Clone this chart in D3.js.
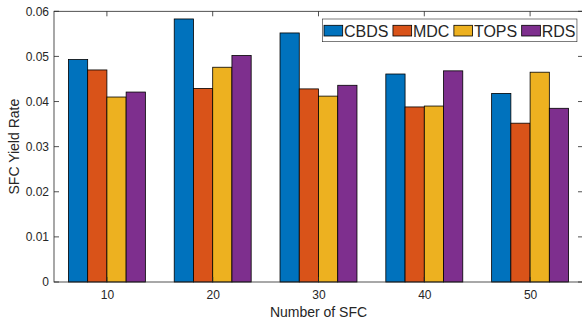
<!DOCTYPE html>
<html>
<head>
<meta charset="utf-8">
<script src="https://cdn.jsdelivr.net/npm/d3@7"></script>
<style>
  html, body { margin: 0; padding: 0; background: #fff; }
  svg text { font-family: "Liberation Sans", Arial, Helvetica, sans-serif; fill: #262626; }
</style>
</head>
<body>
<svg id="chart" width="582" height="322"></svg>
<script>
// Grouped bar data: SFC yield rate per algorithm
const categories = [10, 20, 30, 40, 50];
const seriesNames = ["CBDS", "MDC", "TOPS", "RDS"];
const cbds = [0.0493, 0.0583, 0.0552, 0.0461, 0.0418];
const mdc  = [0.0470, 0.0429, 0.0428, 0.0388, 0.0352];
const tops = [0.0410, 0.0476, 0.0412, 0.0390, 0.0465];
const rds  = [0.0421, 0.0502, 0.0436, 0.0468, 0.0385];
const yTicks = [0, 0.01, 0.02, 0.03, 0.04, 0.05, 0.06];
const colors = ["#0072BD", "#D95319", "#EDB120", "#7E2F8E"];

const series = [cbds, mdc, tops, rds];

const svg = d3.select("#chart");
const plotL = 54, plotR = 583, plotT = 11.3, plotB = 282;
const axisColor = "#262626";

const x = d3.scaleLinear().domain([5, 55]).range([plotL, plotR]);
const y = d3.scaleLinear().domain([0, 0.06]).range([plotB, plotT]);

// group spans 4/(4+1.5) of the category spacing
const spacing = 10;
const groupW = spacing * series.length / (series.length + 1.5);
const inner = d3.scaleBand().domain(d3.range(series.length)).range([-groupW / 2, groupW / 2]).padding(0);

// bars
const g = svg.append("g");
categories.forEach((c, ci) => {
  series.forEach((s, si) => {
    const x0 = x(c + inner(si));
    const x1 = x(c + inner(si) + inner.bandwidth());
    g.append("rect")
      .attr("x", x0)
      .attr("y", y(s[ci]))
      .attr("width", x1 - x0)
      .attr("height", y(0) - y(s[ci]))
      .attr("fill", colors[si])
      .attr("stroke", "#000")
      .attr("stroke-width", 0.8);
  });
});

// axes
const xAxis = d3.axisBottom(x).tickValues(categories).tickSize(0).tickPadding(8).tickFormat(d3.format("d"));
const yAxis = d3.axisLeft(y).tickValues(yTicks).tickSize(0).tickPadding(5)
  .tickFormat(d => d === 0 ? "0" : d3.format(".2f")(d));

const gx = svg.append("g").attr("transform", `translate(0,${plotB})`).call(xAxis);
const gy = svg.append("g").attr("transform", `translate(${plotL},0)`).call(yAxis);
[gx, gy].forEach(a => {
  a.select(".domain").remove();
  a.selectAll("text").style("font-size", "12px").attr("fill", axisColor);
});

// box and inward ticks
const box = svg.append("g").attr("stroke", axisColor).attr("stroke-width", 0.8).attr("fill", "none");
box.append("rect").attr("x", plotL).attr("y", plotT).attr("width", plotR - plotL).attr("height", plotB - plotT);
const tl = 5;
categories.forEach(c => {
  box.append("line").attr("x1", x(c)).attr("x2", x(c)).attr("y1", plotB).attr("y2", plotB - tl);
  box.append("line").attr("x1", x(c)).attr("x2", x(c)).attr("y1", plotT).attr("y2", plotT + tl);
});
yTicks.forEach(t => {
  box.append("line").attr("x1", plotL).attr("x2", plotL + tl).attr("y1", y(t)).attr("y2", y(t));
  box.append("line").attr("x1", plotR).attr("x2", plotR - tl).attr("y1", y(t)).attr("y2", y(t));
});

// axis titles
svg.append("text").attr("x", (plotL + plotR) / 2).attr("y", 316.5)
  .attr("text-anchor", "middle").style("font-size", "14px").text("Number of SFC");
svg.append("text").attr("transform", `translate(19,${(plotT + plotB) / 2}) rotate(-90)`)
  .attr("text-anchor", "middle").style("font-size", "14px").text("SFC Yield Rate");

// legend
const lg = svg.append("g");
const lgBox = lg.append("rect").attr("x", 322.3).attr("y", 19).attr("height", 22.7)
  .attr("fill", "#fff").attr("stroke", "#262626").attr("stroke-width", 0.6);
let lx = 324;
seriesNames.forEach((n, i) => {
  lg.append("rect").attr("x", lx).attr("y", 25.3).attr("width", 18.7).attr("height", 10.7)
    .attr("fill", colors[i]).attr("stroke", "#000").attr("stroke-width", 0.8);
  const t = lg.append("text").attr("x", lx + 20).attr("y", 36.8).style("font-size", "16px").attr("fill", "#000").text(n);
  lx += 20 + t.node().getComputedTextLength() + 4.5;
});
lgBox.attr("width", lx - 4.5 + 1.5 - 322.3);
</script>
</body>
</html>
